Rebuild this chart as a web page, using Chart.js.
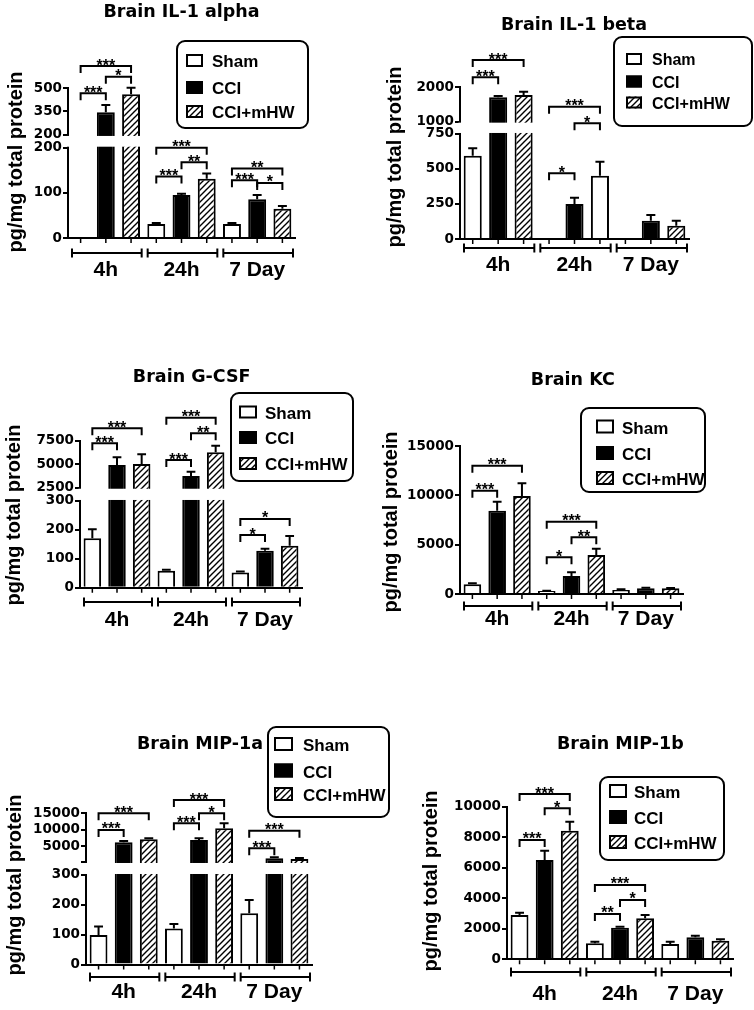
<!DOCTYPE html>
<html>
<head>
<meta charset="utf-8">
<script src="https://cdn.jsdelivr.net/npm/chart.js@4.4.1/dist/chart.umd.min.js"></script>
<style>
html, body { margin: 0; padding: 0; background: #fff; }
#wrap { position: relative; width: 754px; height: 1010px; overflow: hidden; background: #fff; }
#wrap canvas { position: absolute; left: 0; top: 0; }
</style>
</head>
<body>
<div id="wrap"></div>
<script>
// ---------------- data ----------------
const groupLabels = ['4h', '24h', '7 Day'];
const seriesNames = ['Sham', 'CCI', 'CCI+mHW'];
const yAxisLabel = 'pg/mg total protein';

// Brain IL-1 alpha
const il1aSham = [0, 31, 31];
const il1aShamErr = [0, 2, 2];
const il1aCCI = [345, 95, 86];
const il1aCCIErr = [46, 3, 9];
const il1aMHW = [460, 131, 65];
const il1aMHWErr = [42, 12, 6];
const il1aRanges = [[0, 200], [200, 500]];
const il1aTicks = [0, 100, 200, 200, 350, 500];
const il1aSig = [[0, 0, 1, 466, '***'], [0, 1, 2, 572, '*'], [0, 0, 2, 640, '***'],
                 [1, 0, 1, 136, '***'], [1, 1, 2, 168, '**'], [1, 0, 2, 200, '***'],
                 [2, 0, 1, 128, '***'], [2, 1, 2, 122, '*'], [2, 0, 2, 154, '**']];

// Brain IL-1 beta
const il1bSham = [595, 0, 3];
const il1bShamErr = [53, 0, 0];
const il1bCCI = [1703, 250, 131];
const il1bCCIErr = [37, 45, 40];
const il1bMHW = [1769, 452, 95];
const il1bMHWErr = [96, 100, 36];
const il1bRanges = [[0, 750], [1000, 2000]];
const il1bTicks = [0, 250, 500, 750, 1000, 2000];
const il1bSig = [[0, 0, 1, 2280, '***'], [0, 0, 2, 2778, '***'],
                 [1, 0, 1, 469, '*'], [1, 1, 2, 967, '*'], [1, 0, 2, 1432, '***']];

// Brain G-CSF
const gcsfSham = [171, 59, 53];
const gcsfShamErr = [31, 3, 3];
const gcsfCCI = [4915, 3745, 128];
const gcsfCCIErr = [820, 457, 7];
const gcsfMHW = [5021, 6266, 145];
const gcsfMHWErr = [1030, 700, 34];
const gcsfRanges = [[0, 300], [2500, 7500]];
const gcsfTicks = [0, 100, 200, 300, 2500, 5000, 7500];
const gcsfSig = [[0, 0, 1, 7223, '***'], [0, 0, 2, 8819, '***'],
                 [1, 0, 1, 5447, '***'], [1, 1, 2, 8287, '**'], [1, 0, 2, 9947, '***'],
                 [2, 0, 1, 182, '*'], [2, 0, 2, 238, '*']];

// Brain KC
const kcSham = [983, 300, 400];
const kcShamErr = [107, 40, 70];
const kcCCI = [8440, 1824, 575];
const kcCCIErr = [910, 376, 65];
const kcMHW = [9930, 3950, 575];
const kcMHWErr = [1285, 640, 45];
const kcRanges = [[0, 15000]];
const kcTicks = [0, 5000, 10000, 15000];
const kcSig = [[0, 0, 1, 10466, '***'], [0, 0, 2, 12999, '***'],
               [1, 0, 1, 3718, '*'], [1, 1, 2, 5745, '**'], [1, 0, 2, 7325, '***']];

// Brain MIP-1a
const mip1aSham = [99, 121, 172];
const mip1aShamErr = [28, 15, 44];
const mip1aCCI = [6246, 6940, 1417];
const mip1aCCIErr = [392, 514, 302];
const mip1aMHW = [7152, 10472, 1205];
const mip1aMHWErr = [302, 1509, 302];
const mip1aRanges = [[0, 300], [300, 15000]];
const mip1aTicks = [0, 100, 200, 300, 300, 5000, 10000, 15000];
const mip1aSig = [[0, 0, 1, 9959, '***'], [0, 0, 2, 15000, '***'],
                  [1, 0, 1, 11981, '***'], [1, 1, 2, 15000, '*'], [1, 0, 2, 19014, '***'],
                  [2, 0, 1, 4435, '***'], [2, 0, 2, 9748, '***']];

// Brain MIP-1b
const mip1bSham = [2903, 1048, 1003];
const mip1bShamErr = [151, 105, 150];
const mip1bCCI = [6507, 2071, 1442];
const mip1bCCIErr = [610, 65, 105];
const mip1bMHW = [8427, 2687, 1219];
const mip1bMHWErr = [590, 216, 92];
const mip1bRanges = [[0, 10000]];
const mip1bTicks = [0, 2000, 4000, 6000, 8000, 10000];
const mip1bSig = [[0, 0, 1, 7818, '***'], [0, 1, 2, 9895, '*'], [0, 0, 2, 10832, '***'],
                  [1, 0, 1, 2969, '**'], [1, 1, 2, 3886, '*'], [1, 0, 2, 4869, '***']];

// ---------------- broken (piecewise) value scale ----------------
class BrokenScale extends Chart.LinearScale {
  static id = 'broken';
  static defaults = {};
  determineDataLimits() {
    const s = this.options.segments;
    this.min = s[0].min;
    this.max = s[s.length - 1].max;
  }
  buildTicks() {
    return this.options.tickList.map(t => ({ value: t.value, seg: t.seg, hide: t.hide }));
  }
  segPixel(i, v) {
    const s = this.options.segments[i];
    const f = s.from + (v - s.min) / (s.max - s.min) * (s.to - s.from);
    return this.bottom - f * (this.bottom - this.top);
  }
  getPixelForValue(v) {
    if (v === null || v === undefined || isNaN(v)) return NaN;
    const s = this.options.segments, n = s.length;
    for (let i = 0; i < n; i++) {
      if (v <= s[i].max || i === n - 1) {
        if (i === 0 || v >= s[i].min) return this.segPixel(i, v);
        const p0 = this.segPixel(i - 1, s[i - 1].max), p1 = this.segPixel(i, s[i].min);
        return p0 + (v - s[i - 1].max) / (s[i].min - s[i - 1].max) * (p1 - p0);
      }
    }
    return NaN;
  }
  getPixelForTick(index) {
    const t = this.ticks[index];
    if (!t) return null;
    return this.segPixel(t.seg, t.value);
  }
  getValueForPixel(px) {
    const s = this.options.segments;
    const f = (this.bottom - px) / (this.bottom - this.top);
    for (let i = 0; i < s.length; i++) {
      if (f <= s[i].to || i === s.length - 1) {
        return s[i].min + (f - s[i].from) / (s[i].to - s[i].from) * (s[i].max - s[i].min);
      }
    }
    return 0;
  }
}
Chart.register(BrokenScale);

// ---------------- styles ----------------
function makeHatch() {
  const c = document.createElement('canvas');
  const n = 6;
  c.width = n; c.height = n;
  const g = c.getContext('2d');
  g.fillStyle = '#fff'; g.fillRect(0, 0, n, n);
  g.strokeStyle = '#000'; g.lineWidth = 1.4;
  g.beginPath();
  g.moveTo(0, n); g.lineTo(n, 0);
  g.moveTo(-n / 2, n / 2); g.lineTo(n / 2, -n / 2);
  g.moveTo(n / 2, n + n / 2); g.lineTo(n + n / 2, n / 2);
  g.stroke();
  return g.createPattern(c, 'repeat');
}
const HATCH = makeHatch();
const FILLS = ['#ffffff', '#000000', HATCH];
const SANS = '"Liberation Sans", Arial, Helvetica, sans-serif';
const WIDE = '"DejaVu Sans", Verdana, sans-serif';
const YW = 60;

const panels = [
  { title: 'Brain IL-1 alpha',
    series: [[il1aSham, il1aShamErr], [il1aCCI, il1aCCIErr], [il1aMHW, il1aMHWErr]],
    ranges: il1aRanges, ticks: il1aTicks, sig: il1aSig,
    L: { left: 68, right: 295, top: 88, bottom: 238, frac: [[0, 0.602], [0.687, 1]], tickSeg: [0, 0, 0, 1, 1, 1],
         labelPad: 20, groupY: 253, titleX: 181.5, titleY: 17, ylabX: 16, ylabY: 162,
         legend: { box: [177, 41, 308, 128], sx: 186, sw: 17, sh: 13, tx: 212, rows: [67, 94, 118], font: 17 } } },
  { title: 'Brain IL-1 beta',
    series: [[il1bSham, il1bShamErr], [il1bCCI, il1bCCIErr], [il1bMHW, il1bMHWErr]],
    ranges: il1bRanges, ticks: il1bTicks, sig: il1bSig,
    L: { left: 460, right: 689, top: 87, bottom: 239, frac: [[0, 0.691], [0.772, 1]], tickSeg: [0, 0, 0, 0, 1, 1],
         labelPad: 14, groupY: 248, titleX: 574, titleY: 30, ylabX: 395, ylabY: 157,
         fillOverride: { 2: { 1: '#ffffff' } },
         legend: { box: [614, 37, 752, 126], sx: 626, sw: 16, sh: 12, tx: 652, rows: [65, 87.5, 108.5], font: 16 } } },
  { title: 'Brain G-CSF',
    series: [[gcsfSham, gcsfShamErr], [gcsfCCI, gcsfCCIErr], [gcsfMHW, gcsfMHWErr]],
    ranges: gcsfRanges, ticks: gcsfTicks, sig: gcsfSig,
    L: { left: 80, right: 302, top: 440.7, bottom: 587.7, frac: [[0, 0.590], [0.680, 1]], tickSeg: [0, 0, 0, 0, 1, 1, 1],
         labelPad: 20, groupY: 602, titleX: 191.7, titleY: 382.3, ylabX: 14, ylabY: 515,
         legend: { box: [231, 393, 353, 481], sx: 239, sw: 18, sh: 13, tx: 265, rows: [418.5, 444, 470], font: 17 } } },
  { title: 'Brain KC',
    series: [[kcSham, kcShamErr], [kcCCI, kcCCIErr], [kcMHW, kcMHWErr]],
    ranges: kcRanges, ticks: kcTicks, sig: kcSig,
    L: { left: 460, right: 683, top: 446, bottom: 594, frac: [[0, 1]], tickSeg: [0, 0, 0, 0],
         labelPad: 13, groupY: 606, titleX: 572.8, titleY: 385, ylabX: 391, ylabY: 522,
         legend: { box: [581, 408, 705, 492], sx: 596, sw: 18, sh: 14, tx: 622, rows: [433.5, 460, 485], font: 17 } } },
  { title: 'Brain MIP-1a',
    series: [[mip1aSham, mip1aShamErr], [mip1aCCI, mip1aCCIErr], [mip1aMHW, mip1aMHWErr]],
    ranges: mip1aRanges, ticks: mip1aTicks, sig: mip1aSig,
    L: { left: 86, right: 312, top: 813.3, bottom: 964.5, frac: [[0, 0.592], [0.678, 1]], tickSeg: [0, 0, 0, 0, 1, 1, 1, 1],
         tickHide: [false, false, false, false, true, false, false, false],
         labelPad: 15, groupY: 977, titleX: 200, titleY: 749, ylabX: 15, ylabY: 885,
         legend: { box: [268, 727, 389, 817], sx: 274, sw: 19, sh: 14, tx: 303, rows: [751, 777.5, 801], font: 17 } } },
  { title: 'Brain MIP-1b',
    series: [[mip1bSham, mip1bShamErr], [mip1bCCI, mip1bCCIErr], [mip1bMHW, mip1bMHWErr]],
    ranges: mip1bRanges, ticks: mip1bTicks, sig: mip1bSig,
    L: { left: 507, right: 733, top: 806.7, bottom: 959.3, frac: [[0, 1]], tickSeg: [0, 0, 0, 0, 0, 0],
         labelPad: 22, groupY: 972, titleX: 620.3, titleY: 749, ylabX: 431, ylabY: 881,
         legend: { box: [600, 777, 724, 860], sx: 609, sw: 18, sh: 14, tx: 634, rows: [798, 824, 849], font: 17 } } }
];

function roundRectPath(ctx, x0, y0, x1, y1, r) {
  ctx.beginPath();
  ctx.moveTo(x0 + r, y0);
  ctx.lineTo(x1 - r, y0); ctx.arcTo(x1, y0, x1, y0 + r, r);
  ctx.lineTo(x1, y1 - r); ctx.arcTo(x1, y1, x1 - r, y1, r);
  ctx.lineTo(x0 + r, y1); ctx.arcTo(x0, y1, x0, y1 - r, r);
  ctx.lineTo(x0, y0 + r); ctx.arcTo(x0, y0, x0 + r, y0, r);
  ctx.closePath();
}

function decorPlugin(P) {
  return {
    id: 'decor',
    afterDraw(chart) {
      const ctx = chart.ctx, xs = chart.scales.x, ys = chart.scales.y, ca = chart.chartArea, L = P.L;
      ctx.save();
      ctx.strokeStyle = '#000'; ctx.fillStyle = '#000'; ctx.lineWidth = 2; ctx.lineCap = 'butt'; ctx.lineJoin = 'miter';
      // error bars (upper SEM)
      P.series.forEach((s, di) => {
        const meta = chart.getDatasetMeta(di);
        s[1].forEach((e, j) => {
          if (!e) return;
          const bar = meta.data[j];
          const yTop = ys.getPixelForValue(s[0][j] + e);
          const half = bar.width * 0.25;
          ctx.beginPath();
          ctx.moveTo(bar.x, bar.y); ctx.lineTo(bar.x, yTop);
          ctx.moveTo(bar.x - half, yTop); ctx.lineTo(bar.x + half, yTop);
          ctx.stroke();
        });
      });
      // axis breaks
      const segs = ys.options.segments;
      for (let i = 1; i < segs.length; i++) {
        const a = ys.segPixel(i, segs[i].min), b = ys.segPixel(i - 1, segs[i - 1].max);
        ctx.fillStyle = '#fff';
        ctx.fillRect(ca.left - 1.5, a + 1, ca.right - ca.left + 3, b - a - 2);
      }
      ctx.fillStyle = '#000';
      // small x tick marks under each bar
      ctx.beginPath();
      P.series.forEach((s, di) => chart.getDatasetMeta(di).data.forEach(bar => {
        ctx.moveTo(bar.x, ca.bottom + 1); ctx.lineTo(bar.x, ca.bottom + 5);
      }));
      ctx.lineWidth = 1.5; ctx.stroke();
      // group brackets
      ctx.lineWidth = 2;
      const gw = (ca.right - ca.left) / groupLabels.length;
      groupLabels.forEach((g, k) => {
        const c = xs.getPixelForTick(k);
        const x0 = c - gw / 2 + 4, x1 = c + gw / 2 - 2, y = L.groupY;
        ctx.beginPath();
        ctx.moveTo(x0, y); ctx.lineTo(x1, y);
        ctx.moveTo(x0, y - 4.5); ctx.lineTo(x0, y + 4.5);
        ctx.moveTo(x1, y - 4.5); ctx.lineTo(x1, y + 4.5);
        ctx.stroke();
      });
      // significance brackets
      ctx.font = 'bold 16px ' + SANS;
      ctx.textAlign = 'center'; ctx.textBaseline = 'alphabetic';
      P.sig.forEach(([g, a, b, v, lab]) => {
        const xa = chart.getDatasetMeta(a).data[g].x, xb = chart.getDatasetMeta(b).data[g].x;
        const y = ys.getPixelForValue(v);
        ctx.beginPath();
        ctx.moveTo(xa, y + 7); ctx.lineTo(xa, y); ctx.lineTo(xb, y); ctx.lineTo(xb, y + 7);
        ctx.stroke();
        ctx.fillText(lab, (xa + xb) / 2, y + 4.5);
      });
      // legend
      const G = L.legend;
      ctx.fillStyle = '#fff';
      roundRectPath(ctx, G.box[0], G.box[1], G.box[2], G.box[3], 8);
      ctx.fill();
      ctx.lineWidth = 2; ctx.stroke();
      ctx.font = 'bold ' + G.font + 'px ' + SANS;
      ctx.textAlign = 'left';
      G.rows.forEach((by, i) => {
        ctx.fillStyle = FILLS[i];
        ctx.fillRect(G.sx, by - G.sh, G.sw, G.sh);
        ctx.lineWidth = 2;
        ctx.strokeRect(G.sx + 1, by - G.sh + 1, G.sw - 2, G.sh - 2);
        ctx.fillStyle = '#000';
        ctx.fillText(seriesNames[i], G.tx, by);
      });
      // title
      ctx.font = 'bold 17.5px ' + WIDE;
      ctx.textAlign = 'center';
      ctx.fillText(P.title, L.titleX, L.titleY);
      // y axis label
      ctx.translate(L.ylabX, L.ylabY);
      ctx.rotate(-Math.PI / 2);
      ctx.font = 'bold 20px ' + SANS;
      ctx.textBaseline = 'middle';
      ctx.fillText(yAxisLabel, 0, 0);
      ctx.restore();
    }
  };
}

const wrap = document.getElementById('wrap');
panels.forEach(P => {
  const L = P.L;
  const XH = Math.min(50, 1010 - L.bottom);
  const cv = document.createElement('canvas');
  cv.width = 754; cv.height = 1010;
  cv.style.width = '754px'; cv.style.height = '1010px';
  wrap.appendChild(cv);
  const datasets = P.series.map((s, i) => {
    const ov = (L.fillOverride && L.fillOverride[i]) || {};
    return {
      label: seriesNames[i],
      data: s[0],
      backgroundColor: s[0].map((_, j) => ov[j] || FILLS[i]),
      borderColor: '#000',
      borderWidth: 2,
      borderSkipped: 'start',
      barPercentage: 0.71,
      categoryPercentage: 1.0
    };
  });
  new Chart(cv, {
    type: 'bar',
    data: { labels: groupLabels, datasets },
    options: {
      responsive: false,
      animation: false,
      events: [],
      layout: { padding: { left: L.left - YW, right: 754 - L.right, top: L.top, bottom: 1010 - L.bottom - XH } },
      plugins: { legend: { display: false }, tooltip: { enabled: false }, title: { display: false } },
      scales: {
        x: {
          type: 'category',
          offset: true,
          grid: { display: false, drawTicks: false },
          border: { display: true, color: '#000', width: 2, z: 1 },
          ticks: { color: '#000', padding: L.labelPad, autoSkip: false, maxRotation: 0,
                   font: { family: SANS, size: 21, weight: 'bold' } },
          afterFit: s => { s.height = XH; s.paddingLeft = 0; s.paddingRight = 0; }
        },
        y: {
          type: 'broken',
          segments: P.ranges.map((r, i) => ({ min: r[0], max: r[1], from: L.frac[i][0], to: L.frac[i][1] })),
          tickList: P.ticks.map((v, i) => ({ value: v, seg: L.tickSeg[i], hide: !!(L.tickHide && L.tickHide[i]) })),
          border: { display: true, color: '#000', width: 2, z: 1 },
          grid: { display: true, drawOnChartArea: false, drawTicks: true, tickLength: 5, color: '#000', lineWidth: 2 },
          ticks: { color: '#000', padding: 1, autoSkip: false,
                   font: { family: WIDE, size: 13.5, weight: 'bold' },
                   callback: (v, i, t) => (t[i] && t[i].hide) ? '' : String(v) },
          afterFit: s => { s.width = YW; s.paddingTop = 0; s.paddingBottom = 0; }
        }
      }
    },
    plugins: [decorPlugin(P)]
  });
});
</script>
</body>
</html>
